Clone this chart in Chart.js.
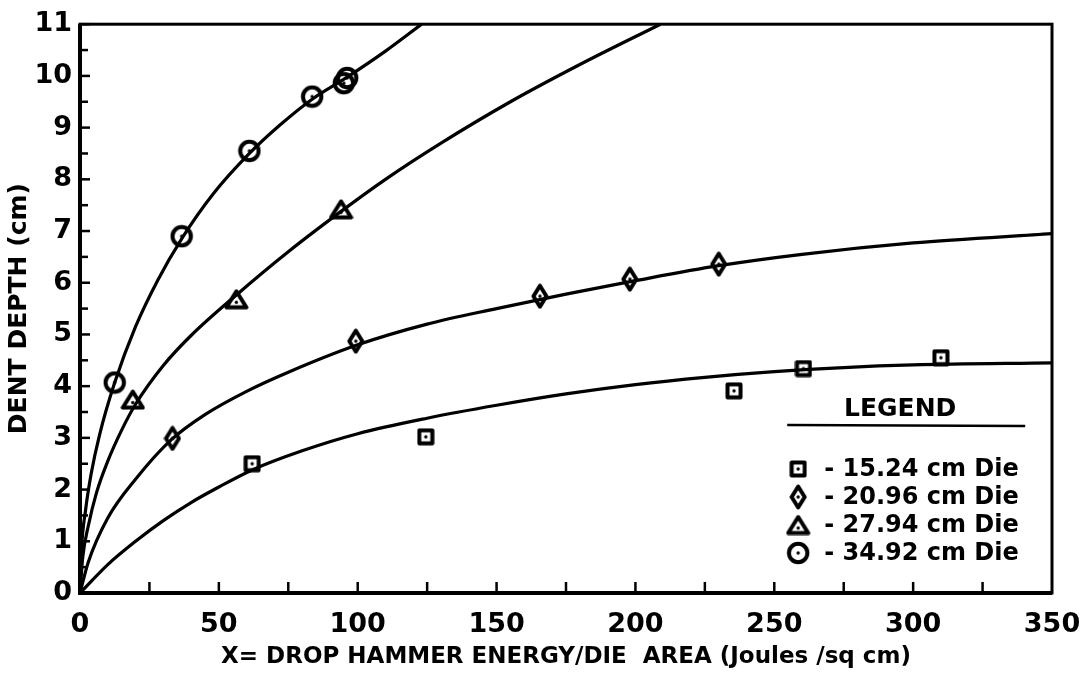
<!DOCTYPE html>
<html>
<head>
<meta charset="utf-8">
<script src="https://cdn.jsdelivr.net/npm/chart.js@4.4.1/dist/chart.umd.min.js"></script>
<style>
    html, body { margin: 0; padding: 0; background: #fff; }
    #wrap { width: 1085px; height: 693px; position: relative; }
</style>
</head>
<body>
<div id="wrap"><canvas id="grafico" width="1085" height="693"></canvas></div>
<script>
// pontos medidos (x = energia / area, y = profundidade)
const quadX = [62, 124.5, 235.5, 260.5, 310];
const quadY = [2.5, 3.02, 3.91, 4.34, 4.55];
const losX = [33.3, 99.3, 165.6, 198, 230];
const losY = [2.99, 4.87, 5.74, 6.07, 6.36];
const triX = [19, 56.3, 94];
const triY = [3.74, 5.68, 7.42];
const circX = [12.5, 36.6, 61, 83.6, 95, 96.2];
const circY = [4.07, 6.9, 8.55, 9.6, 9.86, 9.96];

// curvas ajustadas
const curvaQuadX = [0, 10, 20, 30, 40, 50, 62, 80, 100, 125, 150, 175, 200, 225, 250, 275, 300, 350];
const curvaQuadY = [0, 0.55, 1.0, 1.4, 1.75, 2.05, 2.38, 2.75, 3.08, 3.38, 3.63, 3.85, 4.03, 4.17, 4.28, 4.36, 4.41, 4.45];
const curvaLosX = [0, 3, 10, 20, 33, 45, 60, 75, 100, 125, 150, 175, 200, 230, 260, 300, 350];
const curvaLosY = [0, 0.6, 1.45, 2.2, 2.97, 3.45, 3.9, 4.27, 4.8, 5.2, 5.5, 5.78, 6.04, 6.33, 6.55, 6.77, 6.95];
const curvaTriX = [0, 1, 3, 6, 10, 15, 20, 30, 40, 56, 75, 94, 110, 130, 155, 180, 209];
const curvaTriY = [0, 0.7, 1.3, 1.95, 2.55, 3.15, 3.65, 4.4, 4.98, 5.75, 6.6, 7.38, 8.0, 8.7, 9.5, 10.22, 11];
const curvaCircX = [0, 0.5, 2, 4, 7, 12.5, 20, 28, 36.6, 48, 61, 72, 83.6, 96, 110, 123];
const curvaCircY = [0, 0.8, 1.6, 2.3, 3.05, 4.07, 5.15, 6.05, 6.85, 7.72, 8.5, 9.05, 9.55, 9.97, 10.48, 11];

const rotulosLegenda = ["- 15.24 cm Die", "- 20.96 cm Die", "- 27.94 cm Die", "- 34.92 cm Die"];

const fonte = "'DejaVu Sans', sans-serif";

function juntar(xs, ys) {
    return xs.map((x, i) => ({ x: x, y: ys[i] }));
}

// marcadores desenhados a mao (com ponto no centro)
function criarMarcador(tipo) {
    const c = document.createElement("canvas");
    let w = 20, h = 20;
    if (tipo === "quad") { w = 18; h = 18; }
    if (tipo === "los") { w = 18; h = 26; }
    if (tipo === "tri") { w = 25; h = 21; }
    if (tipo === "circ") { w = 24; h = 24; }
    c.width = w; c.height = h;
    const ctx = c.getContext("2d");
    ctx.strokeStyle = "#000";
    ctx.fillStyle = "#000";
    ctx.lineWidth = 4;
    ctx.lineJoin = "round";
    ctx.beginPath();
    if (tipo === "quad") {
        ctx.rect(2.5, 2.5, w - 5, h - 5);
    } else if (tipo === "los") {
        ctx.moveTo(w / 2, 2.5);
        ctx.lineTo(w - 2.5, h / 2);
        ctx.lineTo(w / 2, h - 2.5);
        ctx.lineTo(2.5, h / 2);
        ctx.closePath();
    } else if (tipo === "tri") {
        ctx.moveTo(w / 2, 2.5);
        ctx.lineTo(w - 2.5, h - 2.5);
        ctx.lineTo(2.5, h - 2.5);
        ctx.closePath();
    } else {
        ctx.arc(w / 2, h / 2, w / 2 - 2.8, 0, Math.PI * 2);
    }
    ctx.stroke();
    ctx.beginPath();
    const cy = tipo === "tri" ? h * 0.64 : h / 2;
    ctx.arc(w / 2, cy, 1.7, 0, Math.PI * 2);
    ctx.fill();
    return c;
}

const marcadores = {
    quad: criarMarcador("quad"),
    los: criarMarcador("los"),
    tri: criarMarcador("tri"),
    circ: criarMarcador("circ")
};

function curva(xs, ys) {
    return {
        type: "line",
        data: juntar(xs, ys),
        borderColor: "#000",
        borderWidth: 3.2,
        pointRadius: 0,
        showLine: true,
        cubicInterpolationMode: "monotone",
        fill: false
    };
}

function pontos(xs, ys, estilo) {
    return {
        type: "scatter",
        data: juntar(xs, ys),
        pointStyle: marcadores[estilo],
        pointRadius: 10,
        showLine: false
    };
}

// moldura, marcas de escala para dentro e legenda
const pluginMoldura = {
    id: "moldura",
    afterDraw(chart) {
        const ctx = chart.ctx;
        const a = chart.chartArea;
        const sx = chart.scales.x;
        const sy = chart.scales.y;
        ctx.save();
        ctx.strokeStyle = "#000";
        ctx.lineWidth = 3;
        ctx.strokeRect(a.left, a.top, a.right - a.left, a.bottom - a.top);
        ctx.lineWidth = 4;
        ctx.beginPath();
        ctx.moveTo(a.left, a.top);
        ctx.lineTo(a.left, a.bottom);
        ctx.lineTo(a.right, a.bottom);
        ctx.stroke();

        ctx.lineWidth = 2.5;
        for (let v = 0; v <= 11; v += 0.5) {
            const py = sy.getPixelForValue(v);
            const len = Number.isInteger(v) ? 10 : 8;
            ctx.beginPath();
            ctx.moveTo(a.left, py);
            ctx.lineTo(a.left + len, py);
            ctx.stroke();
        }
        for (let v = 25; v < 350; v += 25) {
            const px = sx.getPixelForValue(v);
            ctx.beginPath();
            ctx.moveTo(px, a.bottom);
            ctx.lineTo(px, a.bottom - 11);
            ctx.stroke();
        }

        // legenda
        const lx = sx.getPixelForValue(255);
        ctx.fillStyle = "#000";
        ctx.font = "bold 25px " + fonte;
        ctx.textAlign = "center";
        ctx.textBaseline = "middle";
        ctx.fillText("LEGEND", lx + 112, 409);
        ctx.lineWidth = 2.5;
        ctx.beginPath();
        ctx.moveTo(lx - 1, 425);
        ctx.lineTo(lx + 237, 426);
        ctx.stroke();

        const estilos = ["quad", "los", "tri", "circ"];
        const linhas = [469, 497, 525, 553];
        ctx.font = "bold 24px " + fonte;
        ctx.textAlign = "left";
        estilos.forEach((e, i) => {
            const m = marcadores[e];
            ctx.drawImage(m, lx + 10 - m.width / 2, linhas[i] - m.height / 2);
            ctx.fillText(rotulosLegenda[i], lx + 36, linhas[i] + 1);
        });
        ctx.restore();
    }
};

const grafico = new Chart(document.getElementById("grafico").getContext("2d"), {
    type: "scatter",
    data: {
        datasets: [
            curva(curvaQuadX, curvaQuadY),
            curva(curvaLosX, curvaLosY),
            curva(curvaTriX, curvaTriY),
            curva(curvaCircX, curvaCircY),
            pontos(quadX, quadY, "quad"),
            pontos(losX, losY, "los"),
            pontos(triX, triY, "tri"),
            pontos(circX, circY, "circ")
        ]
    },
    options: {
        responsive: false,
        animation: false,
        layout: { padding: { top: 22, right: 0, left: 0, bottom: 0 } },
        plugins: {
            legend: { display: false },
            tooltip: { enabled: false }
        },
        scales: {
            x: {
                type: "linear",
                min: 0,
                max: 350,
                afterFit(scale) {
                    scale.height = 100;
                    scale.paddingLeft = 0;
                    scale.paddingRight = 33;
                },
                grid: { display: false, drawTicks: false },
                border: { display: false },
                ticks: {
                    stepSize: 50,
                    color: "#000",
                    padding: 16,
                    maxRotation: 0,
                    font: { family: fonte, size: 27, weight: "bold" }
                },
                title: {
                    display: true,
                    text: "X= DROP HAMMER ENERGY/DIE  AREA (Joules /sq cm)",
                    color: "#000",
                    padding: { top: 4, bottom: 22 },
                    font: { family: fonte, size: 23, weight: "bold" }
                }
            },
            y: {
                type: "linear",
                min: 0,
                max: 11,
                afterFit(scale) { scale.width = 80; },
                grid: { display: false, drawTicks: false },
                border: { display: false },
                ticks: {
                    stepSize: 1,
                    color: "#000",
                    padding: 8,
                    font: { family: fonte, size: 27, weight: "bold" }
                },
                title: {
                    display: true,
                    text: "DENT DEPTH (cm)",
                    color: "#000",
                    padding: { top: 4, bottom: 0 },
                    font: { family: fonte, size: 25, weight: "bold" }
                }
            }
        }
    },
    plugins: [pluginMoldura]
});
</script>
</body>
</html>
